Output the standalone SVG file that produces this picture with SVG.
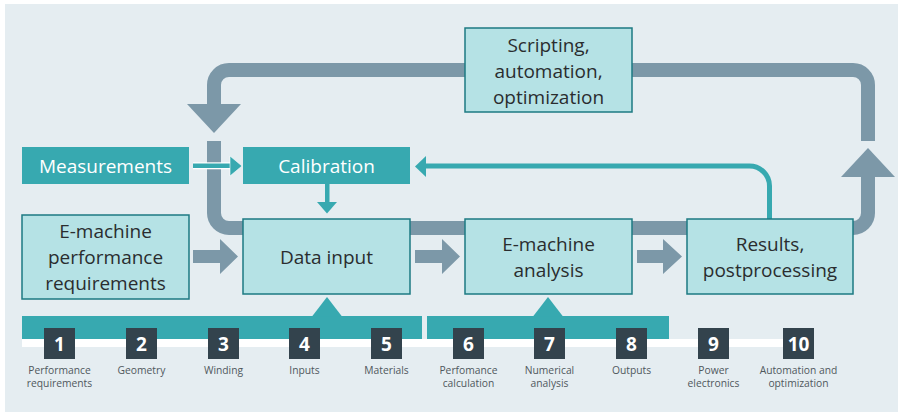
<svg xmlns="http://www.w3.org/2000/svg" width="899" height="414" viewBox="0 0 899 414">
<style>
.bg{fill:#e5edf1}
.loop{fill:none;stroke:#7c98a8;stroke-width:14}
.gray{fill:#7c98a8}
.teal{fill:#37a9b0}
.tline{fill:none;stroke:#37a9b0;stroke-width:5}
.light{fill:#b5e2e5;stroke:#1d7a82;stroke-width:1.5}
.solid{fill:#37a9b0}
.t{font-family:"Open Sans","Noto Sans","DejaVu Sans",sans-serif;font-size:19px;text-anchor:middle;fill:#2a2d2f}
.tw{font-family:"Open Sans","Noto Sans","DejaVu Sans",sans-serif;font-size:19px;text-anchor:middle;fill:#ffffff}
.num{fill:#33434d}
.nt{font-family:"Open Sans","Noto Sans","DejaVu Sans",sans-serif;font-size:19px;font-weight:bold;text-anchor:middle;fill:#ffffff}
.lb{font-family:"Open Sans","Noto Sans","DejaVu Sans",sans-serif;font-size:10.3px;text-anchor:middle;fill:#50585d}
</style>
<rect x="0" y="0" width="899" height="414" fill="#ffffff"/>
<rect class="bg" x="5" y="4" width="893" height="408"/>

<g id="connectors">
  <!-- gray loop -->
  <path class="loop" d="M868,141 V85 A15,15 0 0 0 853,70 H229 A15,15 0 0 0 214,85 V104"/>
  <polygon class="gray" points="187,104 241,104 214,133"/>
  <path class="loop" d="M214,141 V213 A15,15 0 0 0 229,228 H853 A15,15 0 0 0 868,213 V177"/>
  <polygon class="gray" points="841,177 895,177 868,148"/>
  <!-- gray block arrows -->
  <polygon class="gray" points="193,250 220,250 220,239 238,256.5 220,274 220,263 193,263"/>
  <polygon class="gray" points="415,250 442,250 442,239 460,256.5 442,274 442,263 415,263"/>
  <polygon class="gray" points="637,250 663,250 663,239 682,256.5 663,274 663,263 637,263"/>
  <!-- Measurements -> Calibration -->
  <rect x="193" y="162.3" width="38" height="7" fill="#ffffff"/>
  <rect class="teal" x="193" y="163.5" width="38" height="4.5"/>
  <polygon class="teal" points="230,156 242,166 230,176" stroke="#ffffff" stroke-width="0.6"/>
  <!-- Calibration -> Data input -->
  <rect class="teal" x="325" y="184" width="4.5" height="19"/>
  <polygon class="teal" points="317,202 337,202 327,213.5"/>
  <!-- Results -> Calibration feedback -->
  <path class="tline" d="M769.5,219 V186 A20,20 0 0 0 749.5,166 H425"/>
  <polygon class="teal" points="426,156 415,166.5 426,177"/>
</g>

<g id="scripting">
  <rect class="light" x="465" y="28" width="167" height="84"/>
  <text class="t" x="548.5" y="51.5">Scripting,</text>
  <text class="t" x="548.5" y="77.5">automation,</text>
  <text class="t" x="548.5" y="103.5">optimization</text>
</g>
<g id="measurements">
  <rect class="solid" x="22" y="147" width="167" height="37"/>
  <text class="tw" x="105.5" y="172.5">Measurements</text>
</g>
<g id="calibration">
  <rect class="solid" x="243" y="147" width="167" height="37"/>
  <text class="tw" x="326.5" y="172.5">Calibration</text>
</g>
<g id="requirements">
  <rect class="light" x="22" y="215" width="167" height="84"/>
  <text class="t" x="105.5" y="238">E-machine</text>
  <text class="t" x="105.5" y="264">performance</text>
  <text class="t" x="105.5" y="290">requirements</text>
</g>
<g id="data-input">
  <rect class="light" x="243" y="219" width="167" height="75"/>
  <text class="t" x="326.5" y="263.5">Data input</text>
</g>
<g id="analysis">
  <rect class="light" x="465" y="219" width="167" height="75"/>
  <text class="t" x="548.5" y="251">E-machine</text>
  <text class="t" x="548.5" y="277">analysis</text>
</g>
<g id="results">
  <rect class="light" x="687" y="219" width="166" height="75"/>
  <text class="t" x="770" y="251">Results,</text>
  <text class="t" x="770" y="277">postprocessing</text>
</g>

<g id="bands">
  <rect class="teal" x="22" y="316" width="400" height="23"/>
  <polygon class="teal" points="312,316.5 327,297 342,316.5"/>
  <rect class="teal" x="427" y="316" width="242" height="23"/>
  <polygon class="teal" points="533,316.5 548,297 563,316.5"/>
  <rect x="22" y="339" width="761" height="8" fill="#ffffff"/>
</g>

<g id="step1"><rect class="num" x="44" y="328" width="31" height="31"/><text class="nt" x="59.5" y="350.5">1</text>
  <text class="lb" x="59.5" y="373.5">Performance</text><text class="lb" x="59.5" y="386.5">requirements</text></g>
<g id="step2"><rect class="num" x="126" y="328" width="31" height="31"/><text class="nt" x="141.5" y="350.5">2</text>
  <text class="lb" x="141.5" y="373.5">Geometry</text></g>
<g id="step3"><rect class="num" x="208" y="328" width="31" height="31"/><text class="nt" x="223.5" y="350.5">3</text>
  <text class="lb" x="223.5" y="373.5">Winding</text></g>
<g id="step4"><rect class="num" x="289" y="328" width="31" height="31"/><text class="nt" x="304.5" y="350.5">4</text>
  <text class="lb" x="304.5" y="373.5">Inputs</text></g>
<g id="step5"><rect class="num" x="371" y="328" width="31" height="31"/><text class="nt" x="386.5" y="350.5">5</text>
  <text class="lb" x="386.5" y="373.5">Materials</text></g>
<g id="step6"><rect class="num" x="453" y="328" width="31" height="31"/><text class="nt" x="468.5" y="350.5">6</text>
  <text class="lb" x="468.5" y="373.5">Perfomance</text><text class="lb" x="468.5" y="386.5">calculation</text></g>
<g id="step7"><rect class="num" x="534" y="328" width="31" height="31"/><text class="nt" x="549.5" y="350.5">7</text>
  <text class="lb" x="549.5" y="373.5">Numerical</text><text class="lb" x="549.5" y="386.5">analysis</text></g>
<g id="step8"><rect class="num" x="616" y="328" width="31" height="31"/><text class="nt" x="631.5" y="350.5">8</text>
  <text class="lb" x="631.5" y="373.5">Outputs</text></g>
<g id="step9"><rect class="num" x="698" y="328" width="31" height="31"/><text class="nt" x="713.5" y="350.5">9</text>
  <text class="lb" x="713.5" y="373.5">Power</text><text class="lb" x="713.5" y="386.5">electronics</text></g>
<g id="step10"><rect class="num" x="783" y="328" width="31" height="31"/><text class="nt" x="798.5" y="350.5">10</text>
  <text class="lb" x="798.5" y="373.5">Automation and</text><text class="lb" x="798.5" y="386.5">optimization</text></g>
</svg>
